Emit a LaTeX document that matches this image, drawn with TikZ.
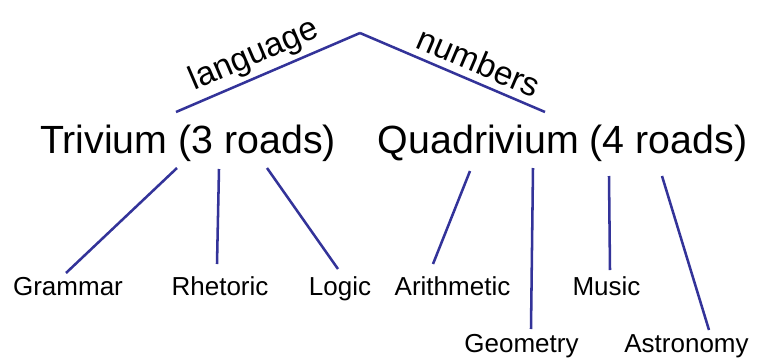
\documentclass[tikz,border=0pt]{standalone}
\usepackage{fontspec}
\setmainfont{Liberation Sans}
\usepackage{tikz}
\usetikzlibrary{positioning, calc}
\definecolor{roadblue}{HTML}{333399}

\begin{document}
\begin{tikzpicture}[x=0.75pt, y=0.75pt,
    branch/.style={anchor=base, inner sep=0pt, font=\fontsize{29.5}{34}\selectfont},
    leaf/.style={anchor=base, inner sep=0pt, font=\fontsize{19.5}{23}\selectfont},
    tag/.style={sloped, inner sep=0pt, font=\fontsize{25}{29}\selectfont},
    road/.style={draw=roadblue, line width=1.9pt}
]
    \useasboundingbox (0,0) rectangle (757,-361);

    % the two ways
    \coordinate (top) at (360,-33);
    \node[branch] (triv) at (188,-153) {Trivium (3 roads)};
    \node[branch] (quad) at (562.5,-153) {Quadrivium (4 roads)};

    % the seven arts
    \node[leaf] (gram) at (68,-295) {Grammar};
    \node[leaf] (rhet) at (220,-295) {Rhetoric};
    \node[leaf] (logic) at (340,-295) {Logic};
    \node[leaf] (arith) at (452.5,-295) {Arithmetic};
    \node[leaf] (geom) at (521.5,-352) {Geometry};
    \node[leaf] (music) at (606.5,-295) {Music};
    \node[leaf] (astro) at (686.5,-352) {Astronomy};

    \draw[road] ($(triv.base)+(-12,41)$) -- node[tag, above=3pt, pos=0.47] (lang) {language} (top);
    \draw[road] (top) -- node[tag, above=5pt, pos=0.6] (num) {numbers} ($(quad.base)+(-17.5,41)$);

    \draw[road] ($(triv.base)+(-11,-15)$) -- ($(gram.base)+(-2,22)$);
    \draw[road] ($(triv.base)+(31,-16)$) -- ($(rhet.base)+(-3,31)$);
    \draw[road] ($(triv.base)+(79,-15)$) -- ($(logic.base)+(-2,26)$);

    \draw[road] ($(quad.base)+(-92.5,-18)$) -- ($(arith.base)+(-19.5,31)$);
    \draw[road] ($(quad.base)+(-29.5,-15)$) -- ($(geom.base)+(9.5,23)$);
    \draw[road] ($(quad.base)+(46.5,-23)$) -- ($(music.base)+(3.5,25)$);
    \draw[road] ($(quad.base)+(99.5,-23)$) -- ($(astro.base)+(22.5,22)$);
\end{tikzpicture}
\end{document}
